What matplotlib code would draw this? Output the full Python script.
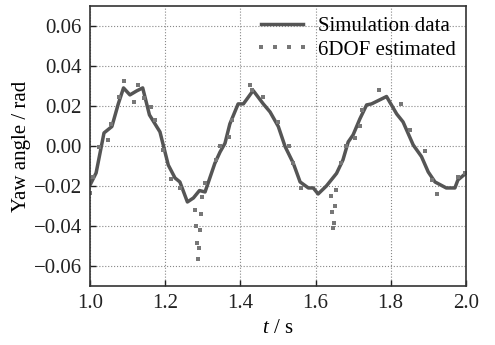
import matplotlib
matplotlib.use("Agg")
import matplotlib.pyplot as plt

# simulation data (solid line)
t_sim = [1.000, 1.016, 1.037, 1.058, 1.075, 1.089, 1.106, 1.124, 1.140, 1.158,
         1.186, 1.208, 1.226, 1.239, 1.259, 1.275, 1.291, 1.306, 1.332, 1.346,
         1.359, 1.372, 1.394, 1.408, 1.434, 1.461, 1.479, 1.501, 1.519, 1.541,
         1.559, 1.581, 1.594, 1.607, 1.629, 1.656, 1.673, 1.687, 1.700, 1.718,
         1.736, 1.749, 1.789, 1.816, 1.833, 1.860, 1.882, 1.900, 1.918, 1.948,
         1.971, 1.979, 2.000]
y_sim = [-0.0195, -0.0135, 0.0065, 0.0097, 0.021, 0.029, 0.0255, 0.0275, 0.029, 0.0155,
         0.007, -0.0095, -0.016, -0.018, -0.028, -0.026, -0.0223, -0.023, -0.0087, -0.003,
         0.0013, 0.011, 0.021, 0.021, 0.0277, 0.021, 0.017, 0.0097, -0.0003, -0.0087,
         -0.018, -0.021, -0.021, -0.024, -0.020, -0.0137, -0.007, 0.002, 0.0055, 0.0135,
         0.0205, 0.021, 0.0247, 0.016, 0.012, 0.0005, -0.0053, -0.013, -0.018, -0.021,
         -0.021, -0.017, -0.0137]

# 6DOF estimated (dots)
t_est = [1.000, 1.009, 1.025, 1.049, 1.055, 1.078, 1.089, 1.118, 1.127, 1.144,
         1.161, 1.174, 1.193, 1.215, 1.239, 1.279, 1.294, 1.282, 1.293, 1.284,
         1.291, 1.286, 1.297, 1.306, 1.335, 1.346, 1.371, 1.377, 1.426, 1.432,
         1.461, 1.501, 1.530, 1.539, 1.561, 1.640, 1.654, 1.651, 1.643, 1.649,
         1.646, 1.669, 1.681, 1.705, 1.718, 1.725, 1.769, 1.827, 1.851, 1.891,
         1.911, 1.923, 1.979, 1.997]
y_est = [-0.0233, -0.0153, -0.0003, 0.003, 0.011, 0.0247, 0.0327, 0.022, 0.0305, 0.0238,
         0.0197, 0.013, -0.002, -0.0165, -0.021, -0.032, -0.034, -0.040, -0.042, -0.0487,
         -0.051, -0.0567, -0.0257, -0.0187, -0.007, 0.0, 0.0047, 0.013, 0.0305, 0.028,
         0.0247, 0.012, 0.0002, -0.0087, -0.021, -0.0248, -0.022, -0.030, -0.033, -0.0387,
         -0.041, -0.0087, 0.0, 0.004, 0.010, 0.018, 0.028, 0.021, 0.008, -0.0023,
         -0.017, -0.024, -0.0153, -0.0137]

plt.rcParams["font.family"] = "Liberation Serif"
plt.rcParams["mathtext.fontset"] = "custom"
plt.rcParams["mathtext.rm"] = "Liberation Serif"
plt.rcParams["mathtext.it"] = "Liberation Serif:italic"
plt.rcParams["font.size"] = 15

fig = plt.figure(figsize=(4.95, 3.45), dpi=100)
ax = fig.add_axes([0.182, 0.171, 0.759, 0.812])

ax.plot(t_sim, y_sim, "-", color="#555555", linewidth=2.5, label="Simulation data")
ax.plot(t_est, y_est, linestyle="none", marker="s", markersize=2.5,
        color="#777777", markeredgewidth=0, label="6DOF estimated")

ax.set_xlim(1.0, 2.0)
ax.set_ylim(-0.07, 0.07)
ax.set_xticks([1.0, 1.2, 1.4, 1.6, 1.8, 2.0])
ax.set_yticks([-0.06, -0.04, -0.02, 0.0, 0.02, 0.04, 0.06])
ax.set_yticklabels(["\u22120.06", "\u22120.04", "\u22120.02", "0.00", "0.02", "0.04", "0.06"])
ax.grid(True, linestyle=":", color="#888888", linewidth=0.8)
ax.tick_params(direction="in", length=4, width=1, labelsize=15, pad=6, colors="#222222")
for s in ax.spines.values():
    s.set_color("#333333")
    s.set_linewidth(1.2)

ax.set_xlabel("$t$ / s", labelpad=4)
ax.set_ylabel("Yaw angle / rad", labelpad=2)

ax.legend(loc="upper right", frameon=False, numpoints=4, handlelength=2.6,
          borderaxespad=0.1, handletextpad=0.4, labelspacing=0.2, markerscale=1.0)

fig.savefig("out.png", dpi=100)
